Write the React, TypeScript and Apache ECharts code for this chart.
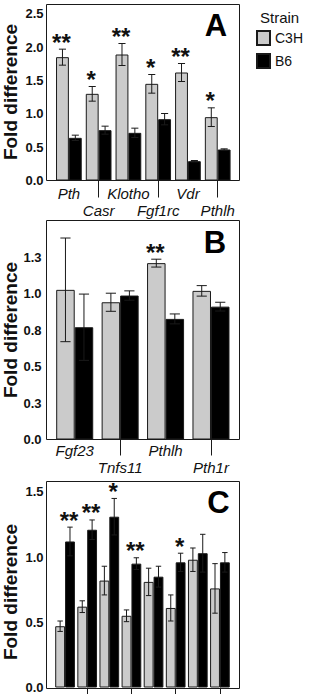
import React, { useEffect, useRef } from "react";
import * as echarts from "echarts";

// Panel A
const catsA = ["Pth", "Casr", "Klotho", "Fgf1rc", "Vdr", "Pthlh"];
const c3hA = [1.85, 1.3, 1.89, 1.45, 1.62, 0.95];
const c3hErrA = [0.12, 0.11, 0.165, 0.14, 0.135, 0.14];
const b6A = [0.64, 0.755, 0.715, 0.92, 0.29, 0.465];
const b6ErrA = [0.04, 0.06, 0.07, 0.085, 0.01, 0.01];
const sigA = ["**", "*", "**", "*", "**", "*"]; // over C3H

// Panel B
const catsB = ["Fgf23", "Tnfs11", "Pthlh", "Pth1r"];
const c3hB = [1.025, 0.94, 1.208, 1.018];
const c3hErrB = [0.355, 0.062, 0.027, 0.036];
const b6B = [0.769, 0.986, 0.826, 0.91];
const b6ErrB = [0.227, 0.032, 0.034, 0.03];
const sigB = ["", "", "**", ""]; // over C3H

// Panel C
const catsC = ["1", "2", "3", "4", "5", "6", "7", "8"];
const c3hC = [0.47, 0.62, 0.82, 0.55, 0.81, 0.61, 0.98, 0.76];
const c3hErrC = [0.04, 0.045, 0.11, 0.045, 0.105, 0.1, 0.09, 0.19];
const b6C = [1.12, 1.21, 1.31, 0.95, 0.85, 0.96, 1.03, 0.96];
const b6ErrC = [0.11, 0.075, 0.14, 0.045, 0.08, 0.07, 0.145, 0.075];
const sigC = ["**", "**", "*", "**", "", "*", "", ""]; // over B6

const strains = ["C3H", "B6"];
const panelLetters = ["A", "B", "C"];

const FONT = "Liberation Sans, Arial, Helvetica, sans-serif";
const GREY = "#cbcbcb";
const DARK = "#1a1a1a";

function errRender(gap: number, side: number, sig: string[]) {
  return (params: any, api: any) => {
    const i = api.value(0);
    const v = api.value(1);
    const e = api.value(2);
    const band = api.size([1, 0])[0];
    const bw = (band * (1 - gap)) / 2;
    const cx = api.coord([i, 0])[0] + (side * bw) / 2;
    const yT = api.coord([i, v + e])[1];
    const yB = api.coord([i, v - e])[1];
    const cap = bw * 0.55;
    const ls = { stroke: DARK, lineWidth: 1 };
    const children: any[] = [
      { type: "line", shape: { x1: cx, y1: yT, x2: cx, y2: yB }, style: ls },
      { type: "line", shape: { x1: cx - cap / 2, y1: yT, x2: cx + cap / 2, y2: yT }, style: ls },
      { type: "line", shape: { x1: cx - cap / 2, y1: yB, x2: cx + cap / 2, y2: yB }, style: ls },
    ];
    const s = sig[params.dataIndex];
    if (s) {
      children.push({
        type: "text",
        x: cx - 1,
        y: yT - 7,
        style: {
          text: s,
          fill: "#111",
          fontSize: 24,
          fontWeight: "bold",
          fontFamily: FONT,
          align: "center",
          verticalAlign: "middle",
        },
      });
    }
    return { type: "group", children };
  };
}

export default function App() {
  const ref = useRef<HTMLDivElement>(null);
  useEffect(() => {
    if (!ref.current) return;
    const chart = echarts.init(ref.current, null, { renderer: "svg" });

    const panels = [
      { cats: catsA, c3h: c3hA, c3hErr: c3hErrA, b6: b6A, b6Err: b6ErrA, sig: sigA, sigSide: -1, gap: 0.136,
        grid: { left: 54, right: 82.4, top: 4.5, bottom: 513.5 }, max: 2.64, interval: 0.5, showCat: true, lblMargin: 4, tickLen: 17 },
      { cats: catsB, c3h: c3hB, c3hErr: c3hErrB, b6: b6B, b6Err: b6ErrB, sig: sigB, sigSide: -1, gap: 0.185,
        grid: { left: 52, right: 81.3, top: 220.5, bottom: 254.5 }, max: 1.5, interval: 0.25, showCat: true, lblMargin: 2, tickLen: 16 },
      { cats: catsC, c3h: c3hC, c3hErr: c3hErrC, b6: b6C, b6Err: b6ErrC, sig: sigC, sigSide: 1, gap: 0.11,
        grid: { left: 54, right: 84, top: 481.5, bottom: 5.5 }, max: 1.58, interval: 0.5, showCat: false, lblMargin: 4, tickLen: 16 },
    ];

    const grids: any[] = [];
    const xAxes: any[] = [];
    const yAxes: any[] = [];
    const series: any[] = [];

    panels.forEach((p, k) => {
      grids.push({ ...p.grid, containLabel: false });
      xAxes.push({
        type: "category",
        gridIndex: k,
        data: p.cats,
        boundaryGap: true,
        axisLine: { show: false },
        axisTick: {
          show: true,
          alignWithLabel: true,
          interval: (i: number) => i % 2 === 1,
          length: p.tickLen,
          lineStyle: { color: DARK, width: 1 },
        },
        axisLabel: {
          show: p.showCat,
          interval: 0,
          margin: p.lblMargin,
          fontFamily: FONT,
          fontStyle: "italic",
          fontSize: 15,
          lineHeight: 17,
          color: "#111",
          formatter: (v: string, i: number) => (i % 2 === 1 ? "\n" + v : v),
        },
      });
      yAxes.push({
        type: "value",
        gridIndex: k,
        min: 0,
        max: p.max,
        interval: p.interval,
        axisLine: { show: false },
        axisTick: { show: false },
        splitLine: { show: false },
        axisLabel: {
          showMaxLabel: false,
          margin: 10.5,
          fontFamily: FONT,
          fontWeight: "bold",
          fontSize: 13,
          color: "#111",
          formatter: (v: number) => v.toFixed(1),
        },
      });
      series.push({
        type: "bar",
        name: strains[0],
        xAxisIndex: k,
        yAxisIndex: k,
        data: p.c3h,
        barGap: "0%",
        barCategoryGap: (p.gap * 100).toFixed(1) + "%",
        itemStyle: { color: GREY, borderColor: DARK, borderWidth: 1 },
      });
      series.push({
        type: "bar",
        name: strains[1],
        xAxisIndex: k,
        yAxisIndex: k,
        data: p.b6,
        barGap: "0%",
        barCategoryGap: (p.gap * 100).toFixed(1) + "%",
        itemStyle: { color: "#000", borderColor: DARK, borderWidth: 1 },
      });
      series.push({
        type: "custom",
        xAxisIndex: k,
        yAxisIndex: k,
        clip: false,
        z: 5,
        data: p.c3h.map((v, i) => [i, v, p.c3hErr[i]]),
        renderItem: errRender(p.gap, -1, p.sigSide === -1 ? p.sig : []),
      });
      series.push({
        type: "custom",
        xAxisIndex: k,
        yAxisIndex: k,
        clip: false,
        z: 5,
        data: p.b6.map((v, i) => [i, v, p.b6Err[i]]),
        renderItem: errRender(p.gap, 1, p.sigSide === 1 ? p.sig : []),
      });
    });

    const frames = [
      { x: 46.5, y: 4.5, h: 176 },
      { x: 46.5, y: 220.5, h: 219 },
      { x: 46.5, y: 481.5, h: 207 },
    ];
    const letterPos = [
      [216, 25],
      [215, 242],
      [218.5, 502.5],
    ];
    const titleY = [92, 330, 592];

    const graphics: any[] = [];
    frames.forEach((f, k) => {
      graphics.push({
        type: "rect",
        shape: { x: f.x, y: f.y, width: 193, height: f.h },
        style: { fill: "none", stroke: DARK, lineWidth: 1 },
        z: 10,
      });
      graphics.push({
        type: "text",
        x: letterPos[k][0],
        y: letterPos[k][1],
        style: {
          text: panelLetters[k],
          fill: "#000",
          fontSize: 31,
          fontWeight: "bold",
          fontFamily: FONT,
          align: "center",
          verticalAlign: "middle",
        },
      });
      graphics.push({
        type: "text",
        x: 10.5,
        y: titleY[k],
        rotation: Math.PI / 2,
        style: {
          text: "Fold difference",
          fill: "#111",
          fontSize: 19,
          fontWeight: "bold",
          fontFamily: FONT,
          align: "center",
          verticalAlign: "middle",
        },
      });
    });
    graphics.push({
      type: "text",
      x: 260,
      y: 17,
      style: {
        text: "Strain",
        fill: "#111",
        fontSize: 15,
        fontFamily: FONT,
        align: "left",
        verticalAlign: "middle",
      },
    });

    chart.setOption({
      animation: false,
      backgroundColor: "#fff",
      grid: grids,
      xAxis: xAxes,
      yAxis: yAxes,
      series,
      legend: {
        data: strains,
        orient: "vertical",
        left: 256,
        top: 30,
        itemWidth: 13,
        itemHeight: 14,
        itemGap: 7,
        icon: "rect",
        selectedMode: false,
        padding: 0,
        textStyle: { fontFamily: FONT, fontSize: 14, color: "#111" },
      },
      graphic: graphics,
    });
    return () => chart.dispose();
  }, []);

  return (
    <div
      ref={ref}
      style={{ position: "absolute", left: 0, top: 0, width: 315, height: 694 }}
    />
  );
}
